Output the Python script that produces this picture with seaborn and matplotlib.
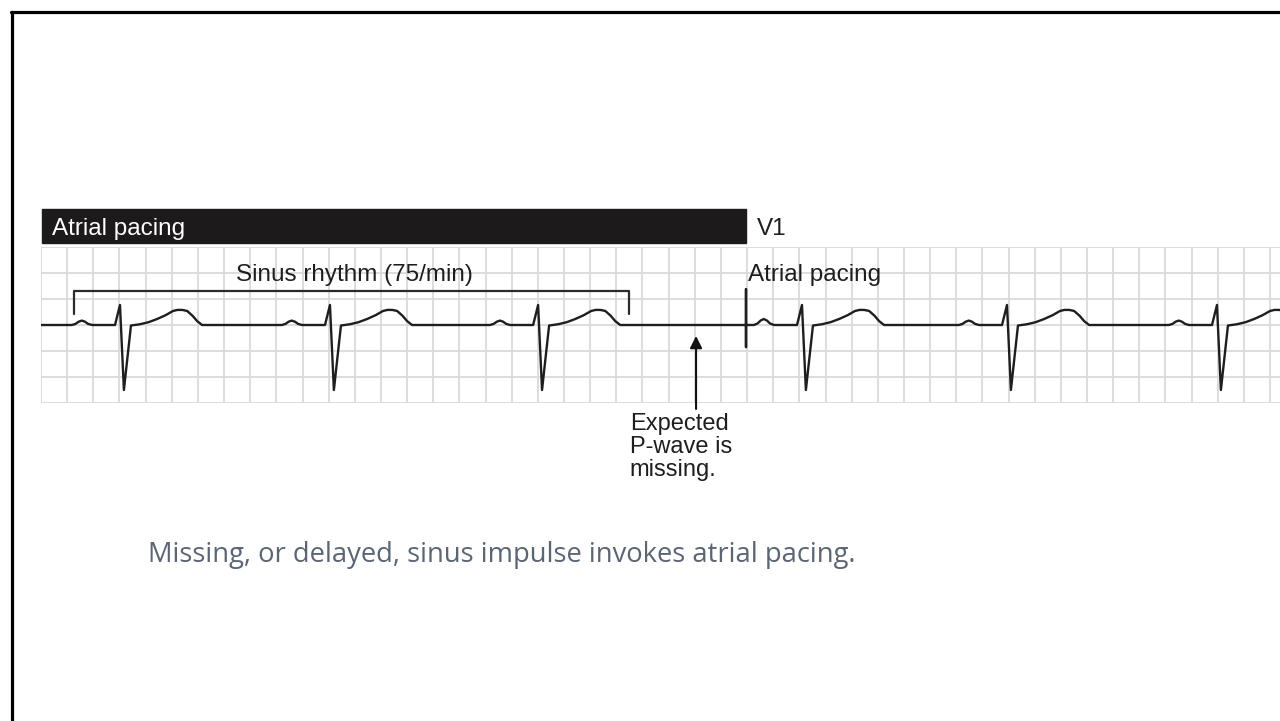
import numpy as np
import pandas as pd
import matplotlib
matplotlib.use("Agg")
import matplotlib.pyplot as plt
from matplotlib.patches import Rectangle
from matplotlib.lines import Line2D
import seaborn as sns

# beat positions, in big grid boxes from the left edge of the strip
sinus_r = [3.02, 11.05, 19.01]
paced_r = [29.10, 36.94, 44.97]
p_height = [0.17, 0.17, 0.17, 0.23, 0.17, 0.17]
spike_x = 26.96
spike_y = [1.38, -0.85]

# wave shapes relative to the R peak (boxes)
p_dx = [-1.84, -1.70, -1.58, -1.46, -1.34, -1.22, -1.07]
p_dy = [0.0, 0.25, 0.75, 1.0, 0.75, 0.25, 0.0]  # times p_height
qrs_dx = [-0.19, 0.0, 0.15, 0.42]
qrs_dy = [0.0, 0.77, -2.5, -0.02]
t_dx = [0.77, 1.1, 1.42, 1.75, 2.03, 2.2, 2.38, 2.57, 2.78, 2.95, 3.14]
t_dy = [0.03, 0.11, 0.23, 0.38, 0.54, 0.58, 0.58, 0.54, 0.35, 0.15, 0.0]

# annotations
bracket_x = [1.26, 22.49]
bracket_y = [0.42, 1.31]
arrow_x = 25.05
arrow_y = [-3.23, -0.42]

# build the trace
xs = [0.0]
ys = [0.0]
for i, r in enumerate(sinus_r + paced_r):
    if i == len(sinus_r):
        # pacemaker spike before the first paced beat
        xs += [spike_x, spike_x, spike_x, spike_x]
        ys += [0.0, spike_y[0], spike_y[1], 0.0]
    xs += [r + d for d in p_dx]
    ys += [p_height[i] * d for d in p_dy]
    xs += [r + d for d in qrs_dx]
    ys += qrs_dy
    xs += [r + d for d in t_dx]
    ys += t_dy
ecg = pd.DataFrame({"t": xs, "mv": ys})

sns.set_theme(style="white")
plt.rcParams["font.family"] = ["Liberation Sans", "DejaVu Sans"]

fig = plt.figure(figsize=(12.8, 7.21), dpi=100)
ax = fig.add_axes([41 / 1280, 1 - 403 / 721, 1239 / 1280, 156 / 721])

sns.lineplot(data=ecg, x="t", y="mv", estimator=None, sort=False,
             color="#1e1e1e", linewidth=1.7, ax=ax)

ax.set_xlim(0, 1239 / 26.15)
ax.set_ylim(-3, 3)
ax.set_xticks(np.arange(0, 48))
ax.set_yticks(np.arange(-3, 4))
ax.grid(True, color="#dadada", linewidth=1.3)
ax.set_axisbelow(True)
ax.tick_params(length=0, labelbottom=False, labelleft=False)
ax.set_xlabel("")
ax.set_ylabel("")
for s in ax.spines.values():
    s.set_visible(False)

# header bar
ax.add_patch(Rectangle((0.04, 3.15), spike_x - 0.04, 1.31, color="#1c1a1b",
                       clip_on=False, zorder=3))
ax.text(0.42, 3.46, "Atrial pacing", color="white", fontsize=17.5,
        va="baseline", ha="left", clip_on=False)
ax.text(27.38, 3.46, "V1", color="#1e1e1e", fontsize=17.5,
        va="baseline", ha="left", clip_on=False)

# sinus bracket
ax.plot([bracket_x[0], bracket_x[0], bracket_x[1], bracket_x[1]],
        [bracket_y[0], bracket_y[1], bracket_y[1], bracket_y[0]],
        color="#2a2a2a", linewidth=1.6)
ax.text(7.46, 1.69, "Sinus rhythm (75/min)", color="#1e1e1e", fontsize=17.5,
        va="baseline", ha="left")
ax.text(27.04, 1.69, "Atrial pacing", color="#1e1e1e", fontsize=17.5,
        va="baseline", ha="left")

# missing P-wave arrow
ax.annotate("", xy=(arrow_x, arrow_y[1]), xytext=(arrow_x, arrow_y[0]),
            arrowprops=dict(arrowstyle="-|>", color="#111111", lw=1.5,
                            mutation_scale=18, shrinkA=0, shrinkB=0),
            annotation_clip=False)
ax.text(22.52, -3.38, "Expected\nP-wave is\nmissing.", color="#1e1e1e",
        fontsize=17, va="top", ha="left", linespacing=1.05, clip_on=False)

# caption
fig.text(148 / 1280, 1 - 562 / 721,
         "Missing, or delayed, sinus impulse invokes atrial pacing.",
         color="#5b6573", fontsize=19.7, family=["Open Sans", "DejaVu Sans"],
         va="baseline", ha="left")

# screenshot frame on left and top
fig.add_artist(Line2D([12 / 1280, 12 / 1280], [0, 1 - 12 / 721],
                      color="black", linewidth=2.3, transform=fig.transFigure))
fig.add_artist(Line2D([10.8 / 1280, 1], [1 - 12 / 721, 1 - 12 / 721],
                      color="black", linewidth=2.3, transform=fig.transFigure))

fig.savefig("out.png", dpi=100, facecolor="white")
